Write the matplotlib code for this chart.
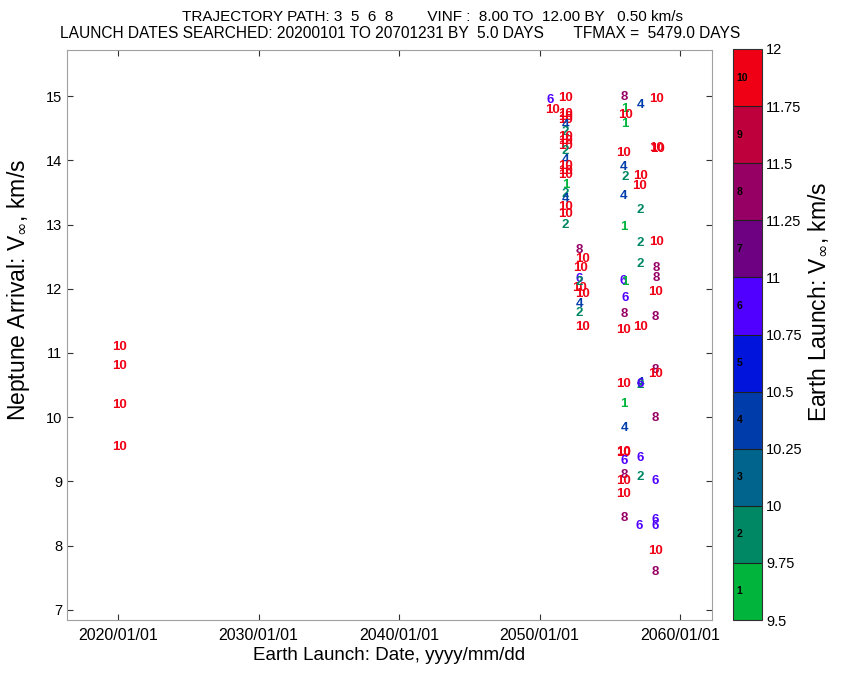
import matplotlib
matplotlib.use("Agg")
import matplotlib.pyplot as plt
import matplotlib.dates as mdates
from matplotlib.colors import ListedColormap, BoundaryNorm
import matplotlib.colorbar as mcolorbar
from datetime import date

plt.rcParams['font.family'] = ['Liberation Sans', 'DejaVu Sans']

# ---- data ----
level_colors = ['#00b43c', '#008764', '#00648c', '#003caa', '#0014dc',
                '#5000ff', '#6e0082', '#960064', '#be003c', '#f00014']
cbar_bounds = [9.5, 9.75, 10.0, 10.25, 10.5, 10.75, 11.0, 11.25, 11.5, 11.75, 12.0]
cbar_tick_labels = ['9.5', '9.75', '10', '10.25', '10.5', '10.75', '11', '11.25', '11.5', '11.75', '12']

launch_dates = [
    # 2020 cluster
    '2020-02-05', '2020-02-05', '2020-02-05', '2020-02-05',
    # 2051 cluster
    '2050-10-01', '2051-11-05', '2050-12-15', '2051-11-05', '2051-11-05', '2051-11-05',
    '2051-11-05', '2051-11-05', '2051-11-05', '2051-11-05', '2051-11-05', '2051-11-05',
    '2051-11-05', '2051-11-05', '2051-11-05', '2051-11-05', '2051-11-05', '2051-11-05',
    '2051-11-05', '2051-11-05', '2051-11-05', '2051-11-05',
    # 2052-53 cluster
    '2052-11-05', '2053-01-10', '2052-11-20', '2052-11-05', '2052-11-05', '2053-01-10',
    '2052-11-05', '2052-11-05', '2053-01-10', '2052-11-05',
    # 2056 cluster
    '2056-01-01', '2056-01-30', '2056-02-10', '2056-01-30', '2056-01-01', '2056-01-01',
    '2056-01-30', '2056-01-01', '2056-01-01', '2055-12-20', '2056-01-30', '2056-01-30',
    '2056-01-01', '2056-01-01', '2056-01-01', '2056-01-01', '2056-01-10', '2056-01-01',
    '2055-12-25', '2056-01-01', '2056-01-01', '2055-12-25', '2056-01-01', '2056-01-01',
    # 2057 cluster
    '2057-02-25', '2057-02-25', '2057-02-10', '2057-02-25', '2057-02-25', '2057-02-25',
    '2057-02-25', '2057-02-25', '2057-02-25', '2057-03-05', '2057-02-25', '2057-02-25',
    '2057-02-15',
    # 2058 cluster
    '2058-05-10', '2058-05-10', '2058-05-20', '2058-05-10', '2058-04-15', '2058-04-15',
    '2058-04-15', '2058-04-05', '2058-04-05', '2058-04-15', '2058-04-05', '2058-04-05',
    '2058-04-05', '2058-04-05', '2058-04-05', '2058-04-05',
]
arrival_vinf = [
    11.09, 10.80, 10.19, 9.54,
    14.94, 14.97, 14.78, 14.72, 14.67, 14.63, 14.55, 14.45, 14.36, 14.30, 14.22, 14.15,
    14.00, 13.92, 13.84, 13.77, 13.62, 13.47, 13.40, 13.27, 13.17, 13.00,
    12.60, 12.46, 12.32, 12.16, 12.02, 11.92, 11.76, 11.62, 11.40, 12.10,
    14.98, 14.80, 14.70, 14.56, 14.11, 13.90, 13.74, 13.44, 12.96, 12.12, 12.10, 11.85,
    11.60, 11.36, 10.52, 10.21, 9.83, 9.46, 9.44, 9.32, 9.10, 9.00, 8.80, 8.43,
    14.86, 13.75, 13.60, 13.23, 12.72, 12.39, 11.40, 10.54, 10.50, 10.52, 9.37, 9.07, 8.30,
    14.95, 14.20, 14.18, 12.73, 12.32, 12.17, 11.95, 11.56, 10.73, 10.67, 9.99, 9.00,
    8.40, 8.30, 7.92, 7.59,
]
launch_level = [
    10, 10, 10, 10,
    6, 10, 10, 10, 10, 10, 4, 2, 10, 10, 10, 2,
    4, 10, 10, 10, 1, 2, 4, 10, 10, 2,
    8, 10, 10, 6, 10, 10, 4, 2, 10, 2,
    8, 1, 10, 1, 10, 4, 2, 4, 1, 6, 1, 6,
    8, 10, 10, 1, 4, 10, 10, 6, 8, 10, 10, 8,
    4, 10, 10, 2, 2, 2, 10, 4, 2, 6, 6, 2, 6,
    10, 10, 10, 10, 8, 8, 10, 8, 8, 10, 8, 6,
    6, 6, 10, 8,
]

xticks = ['2020-01-01', '2030-01-01', '2040-01-01', '2050-01-01', '2060-01-01']

title_line1 = 'TRAJECTORY PATH: 3  5  6  8        VINF :  8.00 TO  12.00 BY   0.50 km/s'
title_line2 = 'LAUNCH DATES SEARCHED: 20200101 TO 20701231 BY  5.0 DAYS       TFMAX =  5479.0 DAYS'

# ---- figure ----
fig = plt.figure(figsize=(8.41, 6.77), dpi=100)
ax = fig.add_axes([67/841, 1-620/677, (712-67)/841, (620-50)/677])

xd = [mdates.date2num(date.fromisoformat(d)) for d in launch_dates]
for x, y, lv in zip(xd, arrival_vinf, launch_level):
    ax.text(x, y, str(lv), color=level_colors[lv-1], fontsize=9.5, fontweight='bold',
            ha='center', va='center')

ax.set_xlim(mdates.date2num(date(2016, 5, 15)), mdates.date2num(date(2062, 4, 10)))
ax.set_ylim(6.84, 15.72)
ax.set_yticks(range(7, 16))
ax.set_xticks([mdates.date2num(date.fromisoformat(d)) for d in xticks])
ax.xaxis.set_major_formatter(mdates.DateFormatter('%Y/%m/%d'))
ax.tick_params(direction='in', top=True, right=True, labelsize=10.5, length=4, color='#333333')
ax.tick_params(axis='x', pad=6, labelsize=11.5)
for s in ax.spines.values():
    s.set_color('#a0a0a0')

fig.text(389/841, 1-655/677, 'Earth Launch: Date, yyyy/mm/dd', fontsize=13.5,
         ha='center', va='center')
fig.text(19/841, 1-290/677, 'Neptune Arrival: V$_\\infty$, km/s', fontsize=16.5,
         rotation=90, ha='center', va='center')

fig.text(432/841, 1-17/677, title_line1, ha='center', va='center', fontsize=11)
fig.text(400/841, 1-34/677, title_line2, ha='center', va='center', fontsize=11.2)

# ---- colorbar ----
cax = fig.add_axes([733/841, 1-620/677, (762-733)/841, (620-49)/677])
cmap = ListedColormap(level_colors)
norm = BoundaryNorm(cbar_bounds, cmap.N)
cb = mcolorbar.ColorbarBase(cax, cmap=cmap, norm=norm, ticks=cbar_bounds,
                            drawedges=True, orientation='vertical')
cb.ax.set_yticklabels(cbar_tick_labels)
cb.ax.tick_params(labelsize=10.5, length=0, pad=3)
cb.outline.set_edgecolor('#303030')
cb.dividers.set_color('#202020')
cb.dividers.set_linewidth(0.8)
for i in range(10):
    yc = (cbar_bounds[i] + cbar_bounds[i+1]) / 2
    cax.text(0.12, yc, str(i+1), transform=cax.get_yaxis_transform(), fontsize=7.5,
             fontweight='bold', color='black', ha='left', va='center')
fig.text(819/841, 1-302/677, 'Earth Launch: V$_\\infty$, km/s', fontsize=16.5,
         rotation=90, ha='center', va='center')

fig.savefig('out.png', dpi=100)
